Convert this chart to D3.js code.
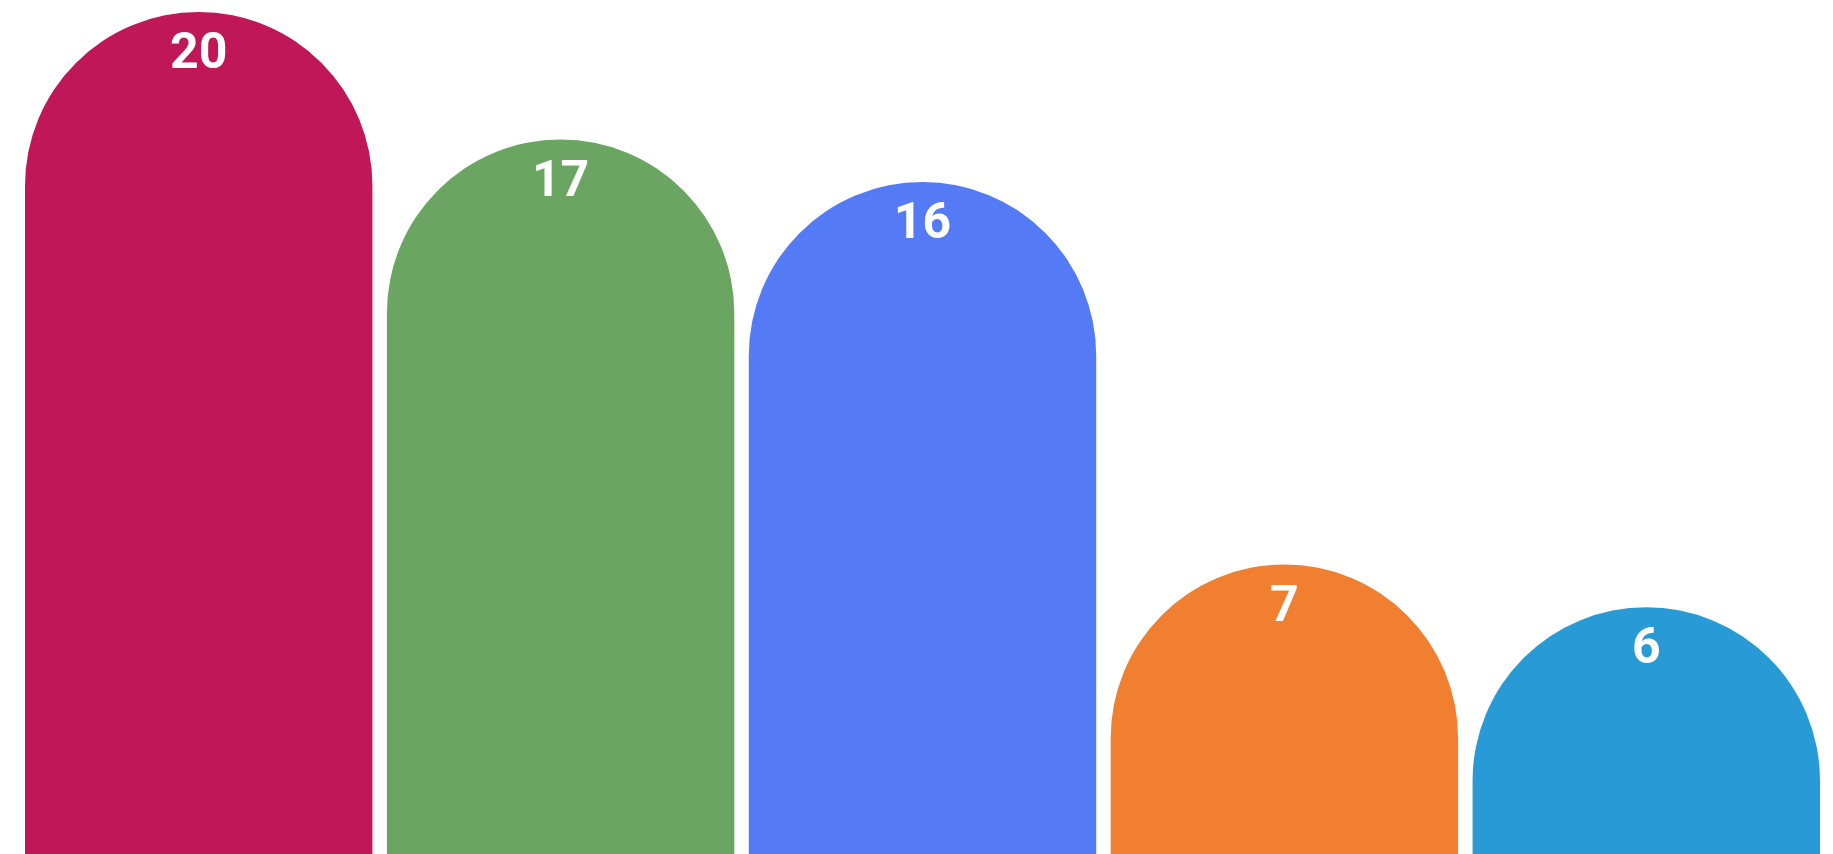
<!DOCTYPE html>
<html>
<head>
<meta charset="utf-8">
<script src="https://cdn.jsdelivr.net/npm/d3@7"></script>
<style>
  html, body { margin: 0; padding: 0; overflow: hidden; background: #fff; }
</style>
</head>
<body>
<div id="chart"></div>
<script>
// chart data
const categories = ["A", "B", "C", "D", "E"];
const values = [20, 17, 16, 7, 6];
const colors = ["#BF1757", "#6AA562", "#547AF5", "#F17F30", "#289BD6"];

const width = 1833;
const height = 854;

const svg = d3.select("#chart")
  .append("svg")
  .attr("width", width)
  .attr("height", height);

// x axis (categories)
const x = d3.scaleBand()
  .domain(categories)
  .range([25, 1820])
  .paddingInner(0.04)
  .paddingOuter(0);

// y scale - top of the rounded bar, bottom runs past the page
const bottom = 862;
const y = d3.scaleLinear()
  .domain([0, 20])
  .range([bottom, 12]);

const r = x.bandwidth() / 2;

// bar with a half circle on top
function barPath(d, i) {
  const x0 = x(categories[i]);
  const x1 = x0 + x.bandwidth();
  const top = y(d);
  return `M${x0},${bottom + 20} L${x0},${top + r} A${r},${r} 0 0 1 ${x1},${top + r} L${x1},${bottom + 20} Z`;
}

svg.selectAll(".bar")
  .data(values)
  .enter()
  .append("path")
  .attr("class", "bar")
  .attr("d", barPath)
  .attr("fill", (d, i) => colors[i]);

// value labels
svg.selectAll(".bar-label")
  .data(values)
  .enter()
  .append("text")
  .attr("class", "bar-label")
  .attr("x", (d, i) => x(categories[i]) + x.bandwidth() / 2)
  .attr("y", d => y(d) + 56)
  .attr("text-anchor", "middle")
  .attr("font-family", "Roboto, sans-serif")
  .attr("font-size", 50)
  .attr("font-weight", 700)
  .attr("fill", "#fff")
  .text(d => d);
</script>
</body>
</html>
